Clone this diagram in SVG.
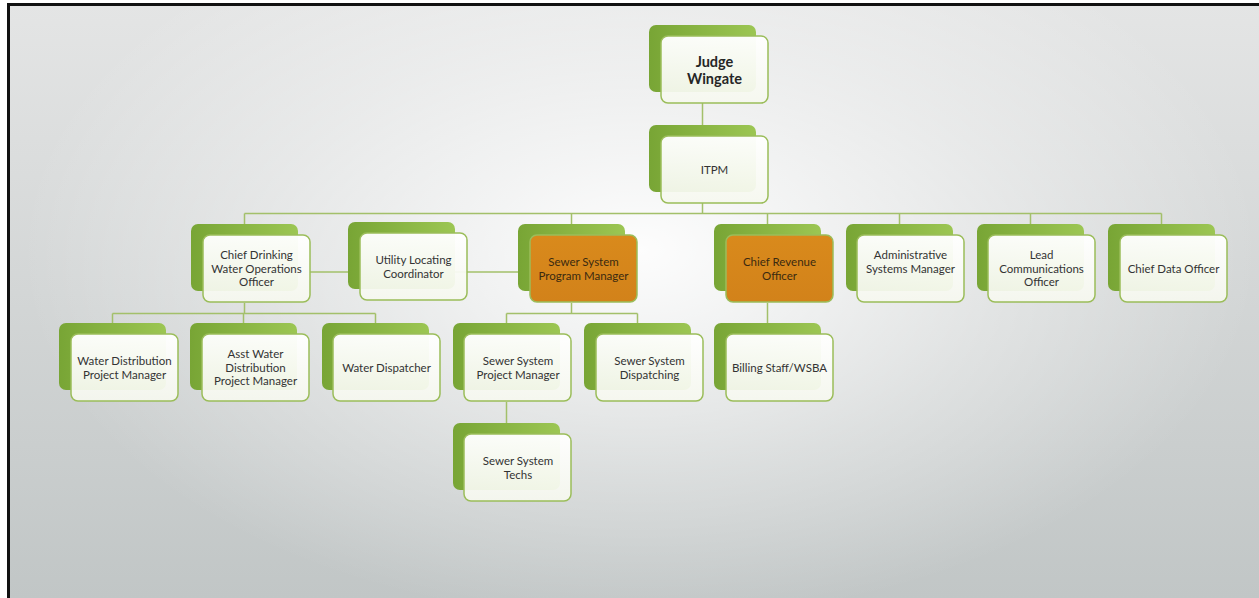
<svg xmlns="http://www.w3.org/2000/svg" width="1259" height="598" viewBox="0 0 1259 598">
<defs>
<linearGradient id="bg" x1="0" y1="0" x2="0" y2="1">
<stop offset="0" stop-color="#e4e5e5"/>
<stop offset="1" stop-color="#c1c6c6"/>
</linearGradient>
<radialGradient id="glow" cx="640" cy="250" r="620" gradientUnits="userSpaceOnUse" gradientTransform="translate(640 250) scale(1 0.6) translate(-640 -250)">
<stop offset="0" stop-color="#ffffff" stop-opacity="0.95"/>
<stop offset="0.6" stop-color="#ffffff" stop-opacity="0.35"/>
<stop offset="1" stop-color="#ffffff" stop-opacity="0"/>
</radialGradient>
<linearGradient id="green" x1="0" y1="0" x2="1" y2="0">
<stop offset="0" stop-color="#78a535"/>
<stop offset="1" stop-color="#9cc653"/>
</linearGradient>
<linearGradient id="white" x1="0" y1="0" x2="0" y2="1">
<stop offset="0" stop-color="#ffffff" stop-opacity="0.97"/>
<stop offset="1" stop-color="#f6f8ef" stop-opacity="0.92"/>
</linearGradient>
<linearGradient id="orange" x1="0" y1="0" x2="0" y2="1">
<stop offset="0" stop-color="#d98a1c"/>
<stop offset="1" stop-color="#d2821a"/>
</linearGradient>
</defs>
<style>
.back{fill:url(#green);}
.front{fill:url(#white);stroke:#9bbd5a;stroke-width:1.5;}
.front.or{fill:url(#orange);stroke:#9bbd5a;}
.t{font-family:Lato,"Liberation Sans",sans-serif;font-size:11.5px;fill:#333333;text-anchor:middle;}
.t.dk{fill:#3b2a10;}
.big{font-family:Lato,"Liberation Sans",sans-serif;font-size:14.5px;font-weight:bold;fill:#262626;text-anchor:middle;}
.c{stroke:#a3c06a;stroke-width:1.5;fill:none;}
</style>
<rect x="0" y="0" width="1259" height="598" fill="#ffffff"/>
<rect x="8" y="4" width="1251" height="594" fill="url(#bg)"/>
<rect x="8" y="4" width="1251" height="594" fill="url(#glow)"/>
<path d="M8.5 598 V4.5 H1259" stroke="#111" stroke-width="3" fill="none"/>

<g id="connectors">
<path class="c" d="M702.5 103 V136 M702.5 203 V213.5 M244.5 213.5 H1161.5 M244.5 213.5 V224 M571.5 213.5 V224 M767.5 213.5 V224 M899.5 213.5 V224 M1030.5 213.5 V224 M1161.5 213.5 V224"/>
<path class="c" d="M309 272 H531"/>
<path class="c" d="M244.5 303 V313.5 M112.5 313.5 H375.5 M112.5 313.5 V323 M243.5 313.5 V323 M375.5 313.5 V323"/>
<path class="c" d="M571.5 303 V313.5 M506.5 313.5 H637.5 M506.5 313.5 V323 M637.5 313.5 V323"/>
<path class="c" d="M506.5 402 V423"/>
<path class="c" d="M767.5 303 V323"/>
</g>

<g id="judge"><rect class="back" x="649" y="25" width="107" height="67" rx="7"/><rect class="front" x="661" y="36" width="107" height="67" rx="7"/><text class="big" x="714.5" y="67">Judge</text><text class="big" x="714.5" y="84">Wingate</text></g>
<g id="itpm"><rect class="back" x="649" y="125" width="107" height="67" rx="7"/><rect class="front" x="661" y="136" width="107" height="67" rx="7"/><text class="t" x="714.5" y="174">ITPM</text></g>

<g id="cdwo"><rect class="back" x="191" y="224" width="107" height="67" rx="7"/><rect class="front" x="203" y="235" width="107" height="67" rx="7"/><text class="t" x="256.5" y="259">Chief Drinking</text><text class="t" x="256.5" y="272.5">Water Operations</text><text class="t" x="256.5" y="286">Officer</text></g>
<g id="ulc"><rect class="back" x="348" y="222" width="107" height="67" rx="7"/><rect class="front" x="360" y="233" width="107" height="67" rx="7"/><text class="t" x="413.5" y="264">Utility Locating</text><text class="t" x="413.5" y="277.5">Coordinator</text></g>
<g id="sspm"><rect class="back" x="518" y="224" width="107" height="67" rx="7"/><rect class="front or" x="530" y="235" width="107" height="67" rx="7"/><text class="t dk" x="583.5" y="266">Sewer System</text><text class="t dk" x="583.5" y="279.5">Program Manager</text></g>
<g id="cro"><rect class="back" x="714" y="224" width="107" height="67" rx="7"/><rect class="front or" x="726" y="235" width="107" height="67" rx="7"/><text class="t dk" x="779.5" y="266">Chief Revenue</text><text class="t dk" x="779.5" y="279.5">Officer</text></g>
<g id="asm"><rect class="back" x="846" y="224" width="107" height="67" rx="7"/><rect class="front" x="857" y="235" width="107" height="67" rx="7"/><text class="t" x="910.5" y="259">Administrative</text><text class="t" x="910.5" y="272.5">Systems Manager</text></g>
<g id="lco"><rect class="back" x="977" y="224" width="107" height="67" rx="7"/><rect class="front" x="988" y="235" width="107" height="67" rx="7"/><text class="t" x="1041.5" y="259">Lead</text><text class="t" x="1041.5" y="272.5">Communications</text><text class="t" x="1041.5" y="286">Officer</text></g>
<g id="cdo"><rect class="back" x="1108" y="224" width="107" height="67" rx="7"/><rect class="front" x="1120" y="235" width="107" height="67" rx="7"/><text class="t" x="1173.5" y="272.5">Chief Data Officer</text></g>

<g id="wdpm"><rect class="back" x="59" y="323" width="107" height="67" rx="7"/><rect class="front" x="71" y="334" width="107" height="67" rx="7"/><text class="t" x="124.5" y="365">Water Distribution</text><text class="t" x="124.5" y="378.5">Project Manager</text></g>
<g id="awdpm"><rect class="back" x="190" y="323" width="107" height="67" rx="7"/><rect class="front" x="202" y="334" width="107" height="67" rx="7"/><text class="t" x="255.5" y="358">Asst Water</text><text class="t" x="255.5" y="371.5">Distribution</text><text class="t" x="255.5" y="385">Project Manager</text></g>
<g id="wd"><rect class="back" x="322" y="323" width="107" height="67" rx="7"/><rect class="front" x="333" y="334" width="107" height="67" rx="7"/><text class="t" x="386.5" y="371.5">Water Dispatcher</text></g>
<g id="ssprojm"><rect class="back" x="453" y="323" width="107" height="67" rx="7"/><rect class="front" x="464" y="334" width="107" height="67" rx="7"/><text class="t" x="518" y="365">Sewer System</text><text class="t" x="518" y="378.5">Project Manager</text></g>
<g id="ssd"><rect class="back" x="584" y="323" width="107" height="67" rx="7"/><rect class="front" x="596" y="334" width="107" height="67" rx="7"/><text class="t" x="649.5" y="365">Sewer System</text><text class="t" x="649.5" y="378.5">Dispatching</text></g>
<g id="bs"><rect class="back" x="714" y="323" width="107" height="67" rx="7"/><rect class="front" x="726" y="334" width="107" height="67" rx="7"/><text class="t" x="779.5" y="371.5">Billing Staff/WSBA</text></g>
<g id="sst"><rect class="back" x="453" y="423" width="107" height="67" rx="7"/><rect class="front" x="464" y="434" width="107" height="67" rx="7"/><text class="t" x="518" y="465">Sewer System</text><text class="t" x="518" y="478.5">Techs</text></g>
</svg>
